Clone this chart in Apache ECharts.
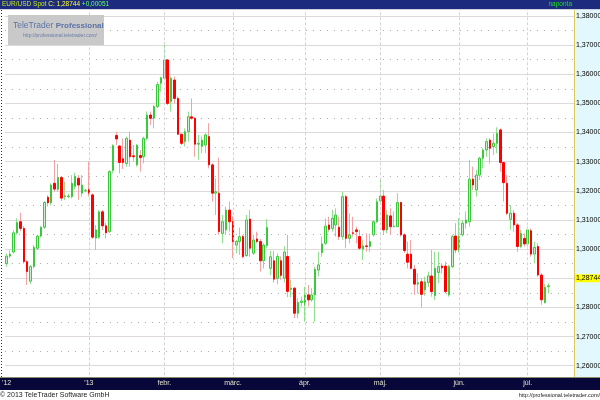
<!DOCTYPE html>
<html><head><meta charset="utf-8">
<script src="https://cdn.jsdelivr.net/npm/echarts@6/dist/echarts.min.js"></script>
<style>html,body{margin:0;padding:0;background:#fff}#c{width:600px;height:400px}</style>
</head><body><div id="c"></div>
<script>
// ---- data (EUR/USD Spot, daily) ----
const open = [
1.2950,1.2976,1.2990,1.3056,1.3094,1.3071,1.2957,1.2890,1.2940,1.3003,
1.3045,1.3075,1.3178,1.3159,1.3226,1.3205,1.3246,1.3180,1.3180,1.3180,
1.3215,1.3243,1.3192,1.3200,1.3205,1.3186,1.3038,1.3041,1.3128,1.3080,
1.3060,1.3270,1.3390,1.3354,1.3310,1.3294,1.3374,1.3320,1.3289,1.3321,
1.3317,1.3380,1.3460,1.3449,1.3489,1.3569,1.3586,1.3649,1.3506,1.3580,
1.3517,1.3394,1.3369,1.3403,1.3454,1.3449,1.3360,1.3352,1.3357,1.3386,
1.3289,1.3192,1.3192,1.3054,1.3066,1.3134,1.3094,1.3014,1.3026,1.3043,
1.2978,1.3103,1.2986,1.3035,1.3026,1.2960,1.3012,1.2934,1.2960,1.2900,
1.2960,1.2900,1.2975,1.2862,1.2866,1.2780,1.2817,1.2809,1.2843,1.2826,
1.2843,1.2928,1.2988,1.3020,1.3083,1.3071,1.3083,1.3075,1.3043,1.3180,
1.3037,1.3056,1.3066,1.3043,1.3000,1.3011,1.3009,1.3049,1.3094,1.3166,
1.3182,1.3066,1.3114,1.3077,1.3077,1.3160,1.3049,1.2983,1.2983,1.2931,
1.2880,1.2888,1.2860,1.2885,1.2908,1.2840,1.2920,1.2942,1.2942,1.2843,
1.2940,1.3045,1.2997,1.3049,1.3089,1.3094,1.3240,1.3203,1.3254,1.3312,
1.3340,1.3374,1.3352,1.3363,1.3409,1.3297,1.3226,1.3102,1.3123,1.3083,
1.3009,1.3037,1.3018,1.3063,1.2983,1.3009,1.2911,1.2816,1.2871];
const close = [
1.2976,1.2983,1.3056,1.3091,1.3071,1.2957,1.2923,1.2940,1.3006,1.3045,
1.3075,1.3160,1.3159,1.3220,1.3206,1.3246,1.3175,1.3183,1.3182,1.3226,
1.3250,1.3220,1.3220,1.3202,1.3192,1.3041,1.3066,1.3128,1.3080,1.3056,
1.3266,1.3355,1.3378,1.3297,1.3297,1.3380,1.3317,1.3317,1.3357,1.3314,
1.3380,1.3460,1.3449,1.3489,1.3565,1.3588,1.3649,1.3500,1.3586,1.3517,
1.3394,1.3363,1.3403,1.3454,1.3449,1.3360,1.3363,1.3374,1.3392,1.3289,
1.3192,1.3197,1.3060,1.3094,1.3134,1.3094,1.3026,1.3026,1.3043,1.2974,
1.3100,1.3003,1.3031,1.3026,1.2960,1.3014,1.3074,1.2974,1.2897,1.2975,
1.2910,1.2990,1.2855,1.2866,1.2780,1.2817,1.2822,1.2843,1.2826,1.2843,
1.2931,1.2946,1.3018,1.3079,1.3068,1.3106,1.3117,1.3043,1.3180,1.3037,
1.3049,1.3054,1.3060,1.3003,1.3011,1.3009,1.3026,1.3094,1.3163,1.3182,
1.3066,1.3117,1.3077,1.3079,1.3160,1.3049,1.2995,1.2955,1.2934,1.2880,
1.2885,1.2845,1.2888,1.2908,1.2854,1.2934,1.2940,1.2936,1.2854,1.2940,
1.3043,1.2997,1.3043,1.3089,1.3100,1.3240,1.3220,1.3254,1.3312,1.3340,
1.3369,1.3346,1.3363,1.3397,1.3297,1.3228,1.3123,1.3123,1.3083,1.3009,
1.3054,1.3018,1.3066,1.2983,1.3006,1.2911,1.2826,1.28693,1.28744];
const low = [
1.2940,1.2970,1.2985,1.3050,1.3061,1.2950,1.2877,1.2880,1.2934,1.2997,
1.3040,1.3070,1.3146,1.3150,1.3197,1.3197,1.3165,1.3168,1.3175,1.3174,
1.3205,1.3169,1.3180,1.3195,1.3180,1.3035,1.2997,1.3035,1.3065,1.3037,
1.3056,1.3260,1.3357,1.3260,1.3275,1.3283,1.3283,1.3300,1.3283,1.3266,
1.3294,1.3374,1.3426,1.3414,1.3484,1.3540,1.3580,1.3494,1.3472,1.3500,
1.3392,1.3357,1.3352,1.3369,1.3444,1.3317,1.3306,1.3329,1.3329,1.3277,
1.3163,1.3117,1.3049,1.3020,1.3049,1.3060,1.2969,1.2986,1.2980,1.2969,
1.2974,1.2974,1.2980,1.3020,1.2923,1.2934,1.3003,1.2911,1.2885,1.2880,
1.2895,1.2885,1.2835,1.2835,1.2763,1.2763,1.2803,1.2751,1.2803,1.2820,
1.2751,1.2906,1.2974,1.3014,1.3060,1.3060,1.3043,1.3031,1.3031,1.3003,
1.3020,1.3043,1.3020,1.2997,1.2963,1.2991,1.2991,1.3043,1.3090,1.3160,
1.3049,1.3054,1.3049,1.3075,1.3077,1.3043,1.2986,1.2934,1.2930,1.2843,
1.2849,1.2800,1.2840,1.2870,1.2837,1.2826,1.2883,1.2917,1.2848,1.2837,
1.2934,1.2986,1.2988,1.3043,1.3071,1.3077,1.3203,1.3180,1.3237,1.3277,
1.3317,1.3294,1.3323,1.3329,1.3266,1.3163,1.3117,1.3066,1.3060,1.2991,
1.3003,1.3009,1.3009,1.2974,1.2951,1.2905,1.2809,1.2814,1.2848];
const high = [
1.2985,1.2996,1.3065,1.3106,1.3125,1.3079,1.2962,1.2946,1.3014,1.3050,
1.3079,1.3165,1.3185,1.3226,1.3306,1.3292,1.3249,1.3231,1.3190,1.3254,
1.3262,1.3254,1.3254,1.3207,1.3300,1.3191,1.3083,1.3134,1.3134,1.3091,
1.3271,1.3360,1.3403,1.3357,1.3380,1.3386,1.3403,1.3357,1.3360,1.3340,
1.3386,1.3472,1.3472,1.3494,1.3574,1.3592,1.3710,1.3652,1.3592,1.3592,
1.3523,1.3397,1.3414,1.3472,1.3517,1.3452,1.3392,1.3386,1.3397,1.3432,
1.3294,1.3243,1.3314,1.3117,1.3146,1.3163,1.3112,1.3031,1.3074,1.3049,
1.3117,1.3134,1.3049,1.3060,1.3035,1.3020,1.3103,1.2994,1.2994,1.2985,
1.2975,1.3010,1.3049,1.2894,1.2870,1.2831,1.2837,1.2871,1.2877,1.2866,
1.2940,1.2991,1.3043,1.3106,1.3111,1.3134,1.3140,1.3111,1.3197,1.3186,
1.3123,1.3111,1.3077,1.3066,1.3031,1.3054,1.3054,1.3100,1.3174,1.3243,
1.3203,1.3134,1.3140,1.3129,1.3192,1.3163,1.3054,1.3026,1.3031,1.2946,
1.2917,1.2900,1.2905,1.2923,1.2997,1.2991,1.2991,1.2951,1.2957,1.2946,
1.3049,1.3089,1.3106,1.3100,1.3129,1.3306,1.3283,1.3272,1.3317,1.3346,
1.3380,1.3380,1.3397,1.3418,1.3414,1.3300,1.3254,1.3151,1.3134,1.3089,
1.3066,1.3054,1.3077,1.3071,1.3026,1.3020,1.2917,1.2880,1.2883];

// trading calendar (weekdays, minus holidays); last entries are empty future days
const firstDay = '2012-11-27';
const lastDay = '2013-07-18';
const holidays = ['2012-12-25', '2013-01-01'];
const monthTicks = ['2012-11-27','2013-01-02','2013-02-01','2013-03-01','2013-04-01','2013-05-01','2013-06-03','2013-07-01'];
const monthNames = ["'12","'13",'febr.','márc.','ápr.','máj.','jún.','júl.'];
const yMin = 1.255, yMax = 1.385, yStep = 0.005;

function tradingDays(a, b, skip) {
  const out = [];
  const [ya, ma, da] = a.split('-').map(Number);
  const [yb, mb, db] = b.split('-').map(Number);
  let t = Date.UTC(ya, ma - 1, da);
  const end = Date.UTC(yb, mb - 1, db);
  while (t <= end) {
    const d = new Date(t);
    const wd = d.getUTCDay();
    const s = d.toISOString().slice(0, 10);
    if (wd !== 0 && wd !== 6 && skip.indexOf(s) < 0) out.push(s);
    t += 86400000;
  }
  return out;
}
const dates = tradingDays(firstDay, lastDay, holidays);
const nameOf = {};
monthTicks.forEach((d, i) => { nameOf[d] = monthNames[i]; });

const full = open.map((o, i) => [o, close[i], low[i], high[i]]);
const bodies = open.map((o, i) => [o, close[i], Math.min(o, close[i]), Math.max(o, close[i])]);
const fmt = v => v.toFixed(5).replace('.', ',');
const last = close[close.length - 1];
const prev = close[close.length - 2];
const chg = last - prev;
const FONT = 'Liberation Sans, Arial, sans-serif';

const chart = echarts.init(document.getElementById('c'), null, { renderer: 'canvas' });
chart.setOption({
  animation: false,
  backgroundColor: '#ffffff',
  grid: { left: 4.9, width: 569.1, top: 1.37, height: 378.93, containLabel: false, outerBoundsMode: 'none' },
  xAxis: [
    { type: 'category', data: dates, boundaryGap: true, position: 'bottom',
      axisLine: { show: false, onZero: false }, axisTick: { show: false }, axisLabel: { show: false }, splitLine: { show: false } },
    { type: 'category', data: dates, boundaryGap: true, position: 'bottom', offset: -1, z: 60,
      axisLine: { show: false, onZero: false }, axisTick: { show: false }, splitLine: { show: false },
      axisLabel: { interval: (i, v) => nameOf[v] !== undefined, formatter: v => nameOf[v] || '',
        color: '#e2e2cc', fontSize: 7, fontFamily: FONT, margin: 0, lineHeight: 8 } }
  ],
  yAxis: [
    { type: 'value', position: 'right', min: yMin, max: yMax, interval: yStep, scale: true,
      axisLine: { show: true, lineStyle: { color: '#d6c040', type: 'dotted', width: 1 } },
      axisTick: { show: false },
      axisLabel: { formatter: v => (Math.round(v * 200) % 2 === 0 ? fmt(v) : ''), color: '#000', fontSize: 7, fontFamily: FONT, margin: 2 },
      splitLine: { show: true, lineStyle: { color: ['rgba(0,0,0,0)', '#dedada'], width: 1, type: 'solid' } } },
    { type: 'value', position: 'right', min: yMin, max: yMax, interval: yStep, scale: true,
      axisLine: { show: false }, axisTick: { show: false }, axisLabel: { show: false },
      splitLine: { show: true, lineStyle: { color: ['#a8a8a8', 'rgba(0,0,0,0)'], width: 1, type: [1, 6] } } }
  ],
  series: [
    { type: 'line', data: [], z: 1, silent: true,
      markLine: { silent: true, symbol: 'none', animation: false, label: { show: false },
        lineStyle: { color: '#d4d4d4', type: [3, 2], width: 1 },
        data: monthTicks.slice(1).map(d => ({ xAxis: d })) } },
    { type: 'candlestick', name: 'wick', data: full, barWidth: 1, z: 2, silent: true,
      itemStyle: { color: '#8fdf8f', color0: '#f3a3a3', borderColor: '#8fdf8f', borderColor0: '#f3a3a3', borderWidth: 1 } },
    { type: 'candlestick', name: 'EUR/USD', data: bodies, barWidth: 2, z: 3, silent: true,
      itemStyle: { color: '#c8f3c8', color0: '#ff0000', borderColor: '#3cc83c', borderColor0: '#ff0000', borderWidth: 1, borderColorDoji: '#3cc83c' },
      markLine: { silent: true, symbol: 'none', animation: false,
        lineStyle: { color: 'rgba(0,0,0,0)', width: 0 },
        label: { show: true, position: 'end', formatter: fmt(last), backgroundColor: '#ffff00', color: '#000',
          fontSize: 7, fontFamily: FONT, padding: [1, 1, 0, 1], distance: 1 },
        data: [{ yAxis: last }] } }
  ],
  graphic: [
    { type: 'rect', z: -10, shape: { x: 574, y: 9, width: 26, height: 369 }, style: { fill: '#e3f8fc' } },
    { type: 'line', z: 40, shape: { x1: 1.5, y1: 10, x2: 1.5, y2: 377 }, style: { stroke: '#333', lineDash: [1, 2], lineWidth: 1 } },
    { type: 'rect', z: 50, shape: { x: 0, y: 0, width: 600, height: 9 }, style: { fill: '#1c2b7d' } },
    { type: 'rect', z: 50, shape: { x: 0, y: 9, width: 600, height: 1 }, style: { fill: '#d0d0dc' } },
    { type: 'text', z: 51, x: 2, y: 4.6, style: {
        text: '{a|EUR/USD Spot} {b|C: ' + fmt(last) + '} {c|' + (chg >= 0 ? '+' : '') + fmt(chg) + '}',
        verticalAlign: 'middle', font: '6.5px ' + FONT,
        rich: { a: { fill: '#c4e81c', fontSize: 6.5, fontFamily: FONT }, b: { fill: '#ffff33', fontSize: 6.5, fontFamily: FONT }, c: { fill: '#66ff66', fontSize: 6.5, fontFamily: FONT } } } },
    { type: 'text', z: 51, x: 572, y: 4.6, style: { text: 'naponta', fill: '#22dd22', font: '6.5px ' + FONT, align: 'right', verticalAlign: 'middle' } },
    { type: 'rect', z: 50, shape: { x: 8, y: 15, width: 96, height: 30 }, style: { fill: '#c9c9c9' } },
    { type: 'text', z: 51, x: 13, y: 26, style: {
        text: '{a|TeleTrader }{b|Professional}', verticalAlign: 'middle',
        rich: { a: { fill: '#5b73a6', fontSize: 8.5, fontFamily: FONT }, b: { fill: '#5b73a6', fontSize: 8, fontWeight: 'bold', fontFamily: FONT } } } },
    { type: 'text', z: 51, x: 97, y: 35.5, style: { text: 'http://professional.teletrader.com/', fill: '#6a7ca6', font: '5px ' + FONT, align: 'right', verticalAlign: 'middle' } },
    { type: 'rect', z: 50, shape: { x: 0, y: 378, width: 600, height: 12 }, style: { fill: '#07073a' } },
    { type: 'rect', z: 51, shape: { x: 0, y: 377, width: 600, height: 1 }, style: { fill: '#8a8a66' } },
    { type: 'rect', z: 50, shape: { x: 0, y: 390, width: 600, height: 10 }, style: { fill: '#ffffff' } },
    { type: 'text', z: 51, x: 0, y: 395, style: { text: '© 2013 TeleTrader Software GmbH', fill: '#222', font: '7px ' + FONT, verticalAlign: 'middle' } },
    { type: 'text', z: 51, x: 600, y: 395, style: { text: 'http://professional.teletrader.com/', fill: '#222', font: '5.5px ' + FONT, align: 'right', verticalAlign: 'middle' } }
  ]
});
</script></body></html>
